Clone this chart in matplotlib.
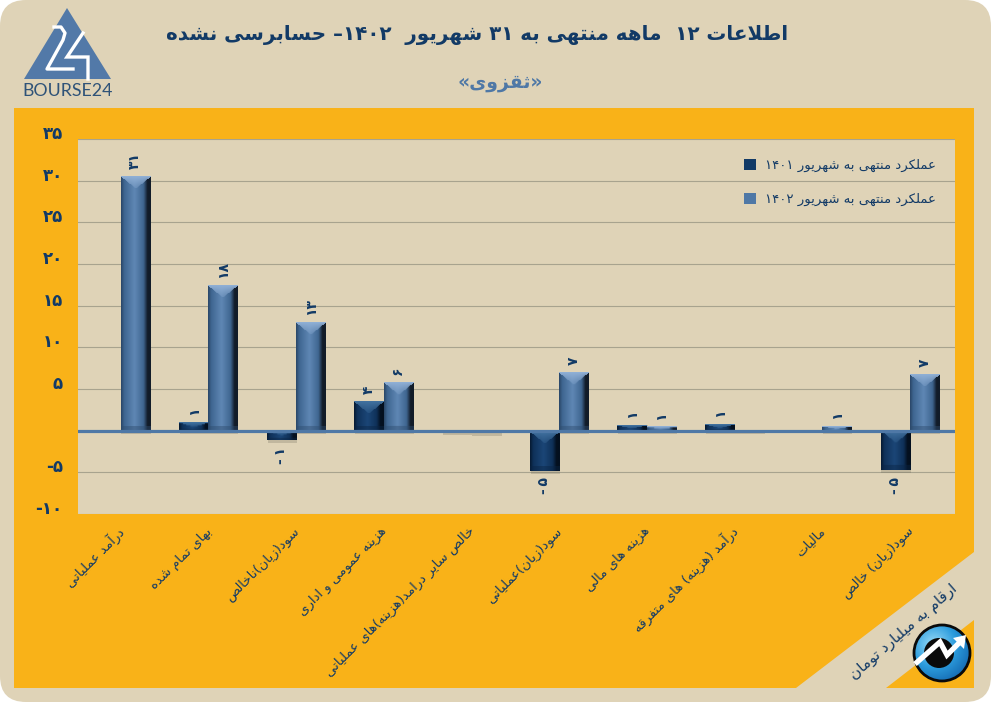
import re
import numpy as np
import matplotlib
matplotlib.use('Agg')
import matplotlib.pyplot as plt
from matplotlib.patches import FancyBboxPatch, Polygon, Circle, Rectangle
from matplotlib.colors import to_rgb, LinearSegmentedColormap
from matplotlib.transforms import ScaledTranslation

plt.rcParams['font.family'] = ['DejaVu Sans']

# ---- data
categories = ['درآمد عملیاتی', 'بهای تمام شده', 'سود(زیان)ناخالص', 'هزینه عمومی و اداری',
              'خالص سایر درامد(هزینه)های عملیاتی', 'سود(زیان)عملیاتی', 'هزینه های مالی',
              'درآمد (هزینه) های متفرقه', 'مالیات', 'سود(زیان) خالص']
values_1401 = [0, 1.0, -1.1, 3.6, -0.15, -4.8, 0.7, 0.8, 0, -4.7]
values_1402 = [30.6, 17.5, 13.0, 5.8, -0.3, 7.0, 0.5, 0.1, 0.6, 6.8]
series_names = ['عملکرد منتهی به شهریور ۱۴۰۱', 'عملکرد منتهی به شهریور ۱۴۰۲']
y_ticks = [-10, -5, 0, 5, 10, 15, 20, 25, 30, 35]

title = 'اطلاعات ۱۲  ماهه منتهی به ۳۱ شهریور  ۱۴۰۲– حسابرسی نشده'
subtitle = '«ثقزوی»'
note = 'ارقام به میلیارد تومان'

NAVY = '#123A66'
BLUE = '#4F78A6'
BEIGE = '#DFD3B7'
YELLOW = '#F9B218'

# ---- matplotlib has no arabic shaping, so do it here
DUAL = {'ب': 0xFE8F, 'پ': 0xFB56, 'ت': 0xFE95, 'ث': 0xFE99, 'ج': 0xFE9D, 'چ': 0xFB7A, 'ح': 0xFEA1,
        'خ': 0xFEA5, 'س': 0xFEB1, 'ش': 0xFEB5, 'ص': 0xFEB9, 'ض': 0xFEBD, 'ط': 0xFEC1, 'ظ': 0xFEC5,
        'ع': 0xFEC9, 'غ': 0xFECD, 'ف': 0xFED1, 'ق': 0xFED5, 'ک': 0xFB8E, 'گ': 0xFB92, 'ل': 0xFEDD,
        'م': 0xFEE1, 'ن': 0xFEE5, 'ه': 0xFEE9, 'ی': 0xFBFC}
RIGHT = {'ا': 0xFE8D, 'آ': 0xFE81, 'د': 0xFEA9, 'ذ': 0xFEAB, 'ر': 0xFEAD, 'ز': 0xFEAF, 'ژ': 0xFB8A,
         'و': 0xFEED}
MIRROR = str.maketrans('()«»', ')(»«')


def fa(text):
    out = []
    i = 0
    while i < len(text):
        c = text[i]
        before = i > 0 and text[i - 1] in DUAL
        after = i + 1 < len(text) and (text[i + 1] in DUAL or text[i + 1] in RIGHT)
        if c == 'ل' and i + 1 < len(text) and text[i + 1] == 'ا':
            out.append(chr(0xFEFC if before else 0xFEFB))
            i += 2
            continue
        if c in DUAL:
            form = {(False, False): 0, (True, False): 1, (False, True): 2, (True, True): 3}[(before, after)]
            out.append(chr(DUAL[c] + form))
        elif c in RIGHT:
            out.append(chr(RIGHT[c] + (1 if before else 0)))
        else:
            out.append(c)
        i += 1
    visual = ''.join(out)[::-1].translate(MIRROR)
    return re.sub('[۰-۹]+', lambda m: m.group(0)[::-1], visual)


def digits(n):
    return str(n).translate(str.maketrans('0123456789', '۰۱۲۳۴۵۶۷۸۹'))


def bevel(w, h, edge, left, mid, right, top, bottom):
    # picture of one bevelled bar, w x h pixels
    w, h = max(int(w), 2), max(int(round(h)), 2)
    xs = np.linspace(0, 1, w)
    stops = [0, 0.1, 0.45, 0.76, 0.9, 1]
    cols = np.array([to_rgb(edge), to_rgb(left), to_rgb(mid), to_rgb(left), to_rgb(right), to_rgb(right)])
    row = np.stack([np.interp(xs, stops, cols[:, k]) for k in range(3)], axis=1)
    img = np.repeat(row[None, :, :], h, axis=0)
    jj, ii = np.meshgrid(np.arange(w), np.arange(h))
    dist = np.abs(jj - (w - 1) / 2) / (w / 2)
    depth = min(12, h * 0.5)
    tri = (ii < depth) & (dist < 1 - ii / depth)
    fade = np.clip(1 - ii / depth, 0, 1)[..., None]
    img = np.where(tri[..., None], img + (np.array(to_rgb(top)) - img) * (0.25 + 0.75 * fade), img)
    low = min(6, h * 0.3)
    bot = (h - ii < low)[..., None]
    img = np.where(bot, img * 0.55 + np.array(to_rgb(bottom)) * 0.45, img)
    return img


fig = plt.figure(figsize=(9.91, 7.02), dpi=100, facecolor='white')

# ---- background, header and corner decoration in pixel coordinates
bg = fig.add_axes([0, 0, 1, 1], zorder=0)
bg.set_xlim(0, 991)
bg.set_ylim(702, 0)
bg.axis('off')
bg.add_patch(FancyBboxPatch((26, 26), 939, 650, boxstyle='round,pad=26,rounding_size=26', fc=BEIGE, ec='none'))
bg.add_patch(Rectangle((14, 108), 960, 580, fc=YELLOW, ec='none'))
bg.add_patch(Polygon([(974, 552), (974, 620), (886, 688), (796, 688)], fc=BEIGE, ec='none'))

bg.text(477.5, 35, fa(title), ha='center', va='center', fontsize=14.3, fontweight='bold', color=NAVY)
bg.text(500, 83, fa(subtitle), ha='center', va='center', fontsize=13.5, fontweight='bold', color=BLUE)
bg.text(904, 632, fa(note), ha='center', va='center', rotation=41, rotation_mode='anchor', fontsize=11, color=NAVY)

# logo
bg.add_patch(Polygon([(67, 8), (24, 79), (111, 79)], fc='#5279A8', ec='none'))
bg.plot([54, 61, 65, 63, 47, 73], [27, 27, 33, 40, 69, 69], color='white', lw=2.4, solid_joinstyle='round')
bg.plot([83, 67, 88, 88], [33, 57, 57, 79], color='white', lw=2.4, solid_joinstyle='miter')
bg.text(67.5, 91, 'BOURSE24', ha='center', va='center', fontsize=12.8, color='#2F5378', family='Lato')

# round icon
yy, xx = np.mgrid[-1:1:120j, -1:1:120j]
shade = LinearSegmentedColormap.from_list('icon', ['#9BDDF8', '#2C9CDD', '#0F5FA8'])
im = bg.imshow(np.hypot(xx + 0.3, yy + 0.3) / 1.6, cmap=shade, vmin=0, vmax=1,
               extent=[914, 970, 681, 625], aspect='auto', zorder=3)
circle = Circle((942, 653), 28, fc='none', ec='#0A0A0A', lw=2, zorder=5)
bg.add_patch(circle)
im.set_clip_path(circle)
bg.add_patch(Circle((939, 653), 15, fc='#0A0A0A', ec='none', zorder=4))
bg.plot([915, 940, 947, 961], [664, 642, 655, 641], color='white', lw=3.8, zorder=6,
        solid_joinstyle='miter', solid_capstyle='butt')
bg.add_patch(Polygon([(966, 635), (953, 638), (964, 649)], fc='white', ec='none', zorder=6))
bg.set_xlim(0, 991)
bg.set_ylim(702, 0)

# ---- chart
ax = fig.add_axes([78 / 991, (702 - 514) / 702, 877 / 991, 375 / 702], zorder=2)
ax.set_facecolor(BEIGE)
x = np.arange(len(categories))
width = 0.334
shift = -0.015
bars_a = ax.bar(x - width / 2 + shift, values_1401, width, color='#123A66', label=fa(series_names[0]), zorder=2)
bars_b = ax.bar(x + width / 2 + shift, values_1402, width, color='#4F78A6', label=fa(series_names[1]), zorder=2)

styles = [('#071C36', '#0F3159', '#1B4677', '#04101F', '#41719F', '#0A2444'),
          ('#2C4A6C', '#3F6691', '#5F87B4', '#121C29', '#8FAFD5', '#2E4C6E')]
px_per_unit = 375 / 45
for bars, style in zip([bars_a, bars_b], styles):
    for b in bars:
        h = abs(b.get_height())
        if h == 0:
            continue
        x0, x1 = b.get_x(), b.get_x() + b.get_width()
        lo, hi = min(b.get_y(), b.get_y() + b.get_height()), max(b.get_y(), b.get_y() + b.get_height())
        ax.add_patch(Rectangle((x0 + 0.01, lo - 0.35), x1 - x0, hi - lo + 0.35, fc='#6B6656', alpha=0.25, ec='none', zorder=1.5))
        ax.imshow(bevel(29, h * px_per_unit, *style), extent=[x0, x1, lo, hi], origin='upper',
                  aspect='auto', zorder=3, interpolation='bilinear')

for bars in [bars_a, bars_b]:
    for b in bars:
        v = b.get_height()
        shown = int(np.floor(abs(v) + 0.5)) * (1 if v > 0 else -1)
        if shown == 0:
            continue
        # thin space keeps the rotated minus clear of the digit
        label = digits(shown).replace('-', '-\u2009')
        ax.annotate(label, (b.get_x() + b.get_width() / 2, v), xytext=(0, 5 if v > 0 else -5),
                    textcoords='offset points', ha='center', va='bottom' if v > 0 else 'top',
                    rotation=90, fontsize=10, fontweight='bold', color=NAVY, zorder=5)

ax.axhline(0, color='#4F78A6', lw=2.3, zorder=4)
ax.set_xlim(-0.5, len(categories) - 0.5)
ax.set_ylim(-10, 35)
ax.set_yticks(y_ticks)
ax.set_yticklabels(['' if t == 0 else digits(t) for t in y_ticks], fontsize=12, fontweight='bold',
                   color=NAVY, va='baseline')
for lab in ax.get_yticklabels():
    lab.set_transform(lab.get_transform() + ScaledTranslation(0, -2 / 100, fig.dpi_scale_trans))
ax.set_xticks(x)
ax.set_xticklabels([fa(c) for c in categories], rotation=45, ha='right', va='center', rotation_mode='anchor',
                   fontsize=9.5, color=NAVY)
ax.tick_params(axis='y', length=0, pad=11)
ax.tick_params(axis='x', length=0, pad=11)
ax.grid(axis='y', color='#A8A38E', lw=0.8, zorder=0)
ax.set_axisbelow(True)
for s in ax.spines.values():
    s.set_visible(False)

ax.legend(handles=[bars_a, bars_b], loc='upper right', bbox_to_anchor=((936 - 78) / 877, 1 - 20 / 375),
          frameon=False, fontsize=9.5, labelcolor=NAVY, handlelength=0.9, handleheight=0.9,
          labelspacing=1.6, handletextpad=0.7, borderaxespad=0, borderpad=0)

fig.savefig('out.png', dpi=100, facecolor='white')
